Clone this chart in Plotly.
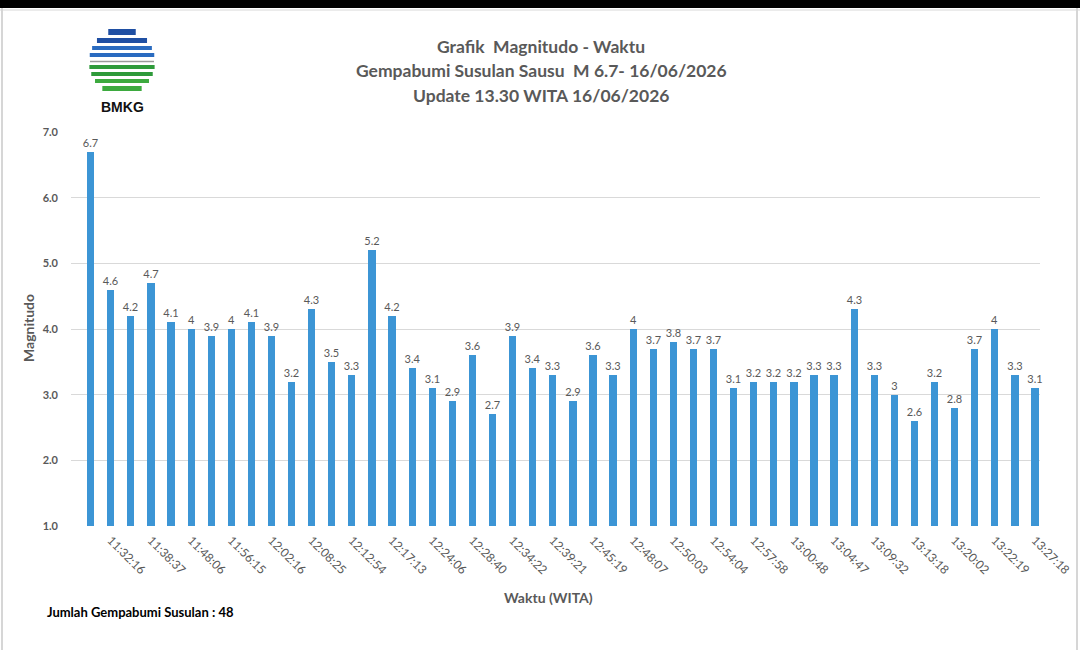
import numpy as np
import plotly.graph_objects as go

# magnitudes of the aftershocks, in time order
magnitudo=[6.7, 4.6, 4.2, 4.7, 4.1, 4.0, 3.9, 4.0, 4.1, 3.9, 3.2, 4.3,
	3.5, 3.3, 5.2, 4.2, 3.4, 3.1, 2.9, 3.6, 2.7, 3.9, 3.4, 3.3,
	2.9, 3.6, 3.3, 4.0, 3.7, 3.8, 3.7, 3.7, 3.1, 3.2, 3.2, 3.2,
	3.3, 3.3, 4.3, 3.3, 3.0, 2.6, 3.2, 2.8, 3.7, 4.0, 3.3, 3.1]
# only every second event carries a time label on the axis
waktu_label=["11:32:16", "11:38:37", "11:48:06", "11:56:15", "12:02:16", "12:08:25",
	"12:12:54", "12:17:13", "12:24:06", "12:28:40", "12:34:22", "12:39:21",
	"12:45:19", "12:48:07", "12:50:03", "12:54:04", "12:57:58", "13:00:48",
	"13:04:47", "13:09:32", "13:13:18", "13:20:02", "13:22:19", "13:27:18"]
y_ticks=[1, 2, 3, 4, 5, 6, 7]

urutan=np.arange(1, len(magnitudo)+1)
label_pos=urutan[1::2]

W, H=1080, 650
L, R, T, B=71, 1040, 132, 526
def px(x): return (x-L)/(R-L)
def py(y): return (B-y)/(B-T)

grey='#595959'
fnt='Lato'

fig=go.Figure()
fig.add_trace(go.Bar(
	x=urutan, y=magnitudo,
	width=0.36, marker=dict(color='#3C95D5', line=dict(width=0)),
	text=[f"{v:g}" for v in magnitudo], textposition='outside',
	constraintext='none',
	textfont=dict(family=fnt, size=11, color=grey),
	cliponaxis=False, hoverinfo='x+y'))

shapes=[
	dict(type='rect', xref='paper', yref='paper', x0=px(0), x1=px(W), y0=py(-2), y1=py(8),
		fillcolor='black', line=dict(width=0), layer='above'),
	dict(type='line', xref='paper', yref='paper', x0=px(0), x1=px(W), y0=py(10), y1=py(10),
		line=dict(color='#E4E4E4', width=1.5)),
	dict(type='line', xref='paper', yref='paper', x0=px(2), x1=px(2), y0=py(8), y1=py(H),
		line=dict(color='#D6D6D6', width=2)),
	dict(type='line', xref='paper', yref='paper', x0=px(1077), x1=px(1077), y0=py(8), y1=py(H),
		line=dict(color='#D6D6D6', width=2)),
]

# BMKG logo: striped circle, blue on top and green below
cx, cy, r=122, 62, 33
for yy, h, col in [(29, 6, '#1F4FA3'), (38, 5, '#1F4FA3'), (46, 4, '#2A6BC0'), (53, 4, '#2A6BC0'),
		(65, 4, '#2E9A3A'), (72, 4, '#2E9A3A'), (79, 4, '#3DAA3F'), (86, 5, '#3DAA3F')]:
	d=abs(yy+h/2-cy)
	half=np.sqrt(max(r*r-d*d, 0))
	shapes.append(dict(type='rect', xref='paper', yref='paper',
		x0=px(cx-half), x1=px(cx+half), y0=py(yy+h), y1=py(yy),
		fillcolor=col, line=dict(width=0)))
shapes.append(dict(type='line', xref='paper', yref='paper', x0=px(cx-32), x1=px(cx+32),
	y0=py(61.5), y1=py(61.5), line=dict(color='#9A9A9A', width=1.5)))

def note(text, x, y, size, color=grey, family=fnt, xanchor='center', angle=0):
	return dict(text=text, x=px(x), y=py(y), xref='paper', yref='paper', showarrow=False,
		xanchor=xanchor, yanchor='middle', textangle=angle,
		font=dict(family=family, size=size, color=color, weight='bold'))

annotations=[
	note("BMKG", 122, 107, 14, color='#111111', family='Liberation Sans'),
	note("Grafik  Magnitudo - Waktu", 541, 47, 17.5),
	note("Gempabumi Susulan Sausu  M 6.7- 16/06/2026", 541, 71, 17.5),
	note("Update 13.30 WITA 16/06/2026", 541, 95, 17.5),
	note("Magnitudo", 28, 328, 14, angle=-90),
	note("Waktu (WITA)", 548, 597, 14),
	note("Jumlah Gempabumi Susulan : 48", 45, 612, 13, color='black', xanchor='left'),
]

fig.update_layout(
	width=W, height=H,
	margin=dict(l=L, r=W-R, t=T, b=H-B),
	paper_bgcolor='white', plot_bgcolor='white',
	showlegend=False, bargap=0,
	shapes=shapes, annotations=annotations,
	xaxis=dict(range=[0.02, 48.25], tickvals=label_pos, ticktext=waktu_label,
		tickangle=45, ticks='', showgrid=False, zeroline=False, showline=False,
		automargin=False, ticklabelstandoff=4,
		tickfont=dict(family=fnt, size=12, color=grey)),
	yaxis=dict(range=[1, 7], tickvals=y_ticks, tickformat='.1f',
		showgrid=True, gridcolor='#D9D9D9', gridwidth=1, zeroline=False,
		ticklabelstandoff=12, automargin=False,
		tickfont=dict(family=fnt, size=11, color=grey, weight='bold')))

# the page body has an 8px margin by default, drop it so the figure sits at 0,0
fig.write_html("out.html", config={'displayModeBar': False},
	post_script="document.body.style.margin='0';")
